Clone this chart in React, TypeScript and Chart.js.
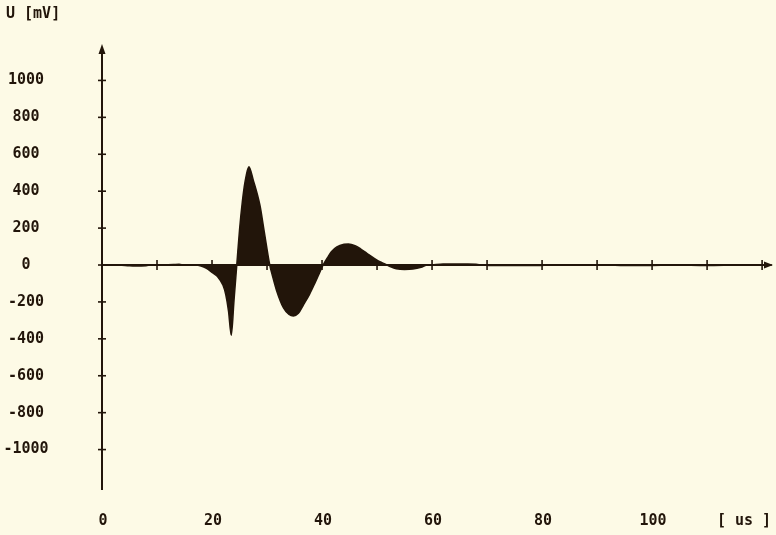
import React, { useEffect, useRef } from "react";
import { Chart, registerables } from "chart.js";

Chart.register(...registerables);

// Recorded pulse: time in microseconds, voltage in millivolts
const TIME_US = [
  0, 3, 5, 6, 8, 9, 10, 13, 14, 15, 17, 18, 19, 20, 21, 22, 22.5, 23, 23.5, 24,
  24.5, 25, 25.5, 26, 26.7, 27.5, 28.7, 29.5, 30.5, 31, 31.7, 33, 34, 34.8, 35.7,
  36.6, 37.7, 38.7, 39.5, 40.2, 41, 41.7, 42.7, 44, 44.8, 46, 47, 48.1, 49.3,
  50.5, 51.5, 52.5, 53.5, 55, 56.5, 58, 59, 60, 62, 64, 66, 68, 69, 72, 75, 78,
  82, 86, 92, 95, 100, 104, 110, 116, 121.8,
];
const VOLTAGE_MV = [
  0, 0, -4, -5, -4, 0, 0, 3, 4, 0, 0, -5, -18, -40, -63, -110, -160, -250, -380,
  -190, 0, 190, 340, 450, 533, 460, 325, 180, 0, -60, -135, -233, -268, -276,
  -262, -217, -160, -98, -45, 0, 40, 72, 98, 112, 114, 105, 88, 65, 40, 18, 5,
  -10, -20, -24, -22, -12, 0, 2, 5, 6, 5, 4, 0, -3, -2, -3, 0, 2, 0, -3, -2, 0,
  -3, 0, 0,
];

// Axis ticks
const Y_TICKS = [-1000, -800, -600, -400, -200, 0, 200, 400, 600, 800, 1000];
const X_TICKS = [10, 20, 30, 40, 50, 60, 70, 80, 90, 100, 110, 120];
const X_TICK_LABELS = [0, 20, 40, 60, 80, 100];

const Y_TITLE = "U [mV]";
const X_TITLE = "[ us ]";

const PAPER = "#fdfae6";
const INK = "#22150a";
const FONT = "bold 15px 'DejaVu Sans Mono', 'Liberation Mono', monospace";

const axesPlugin = {
  id: "penAxes",
  beforeDraw(chart: any) {
    const { ctx, width, height } = chart;
    ctx.save();
    ctx.fillStyle = PAPER;
    ctx.fillRect(0, 0, width, height);
    ctx.restore();
  },
  afterDatasetsDraw(chart: any) {
    const { ctx, chartArea } = chart;
    const xs = chart.scales.x;
    const ys = chart.scales.y;
    const x0 = xs.getPixelForValue(0);
    const y0 = ys.getPixelForValue(0);
    const top = chartArea.top;
    const bottom = chartArea.bottom;
    const right = chartArea.right;

    ctx.save();
    ctx.strokeStyle = INK;
    ctx.fillStyle = INK;
    ctx.lineWidth = 2;

    // vertical axis with arrow
    ctx.beginPath();
    ctx.moveTo(x0, top + 4);
    ctx.lineTo(x0, bottom);
    ctx.stroke();
    ctx.beginPath();
    ctx.moveTo(x0, top - 1);
    ctx.lineTo(x0 - 3.5, top + 9);
    ctx.lineTo(x0 + 3.5, top + 9);
    ctx.closePath();
    ctx.fill();

    // horizontal axis with arrow
    ctx.beginPath();
    ctx.moveTo(x0, y0);
    ctx.lineTo(right - 4, y0);
    ctx.stroke();
    ctx.beginPath();
    ctx.moveTo(right + 1, y0);
    ctx.lineTo(right - 8, y0 - 3.5);
    ctx.lineTo(right - 8, y0 + 3.5);
    ctx.closePath();
    ctx.fill();

    // tick marks
    ctx.lineWidth = 1.6;
    Y_TICKS.forEach((v) => {
      const py = ys.getPixelForValue(v);
      ctx.beginPath();
      ctx.moveTo(x0 - 4, py);
      ctx.lineTo(x0 + 4, py);
      ctx.stroke();
    });
    X_TICKS.forEach((v) => {
      const px = xs.getPixelForValue(v);
      ctx.beginPath();
      ctx.moveTo(px, y0 - 5);
      ctx.lineTo(px, y0 + 5);
      ctx.stroke();
    });

    // labels
    ctx.font = FONT;
    ctx.textBaseline = "middle";
    ctx.textAlign = "center";
    Y_TICKS.forEach((v) => {
      ctx.fillText(String(v), 26, ys.getPixelForValue(v));
    });
    X_TICK_LABELS.forEach((v) => {
      ctx.fillText(String(v), xs.getPixelForValue(v) + 1, 521);
    });
    ctx.fillText(X_TITLE, 744, 521);
    ctx.textAlign = "left";
    ctx.fillText(Y_TITLE, 6, 14);
    ctx.restore();
  },
};

export default function App() {
  const canvasRef = useRef<HTMLCanvasElement | null>(null);

  useEffect(() => {
    const canvas = canvasRef.current;
    if (!canvas) return;
    const points = TIME_US.map((t, i) => ({ x: t, y: VOLTAGE_MV[i] }));
    const chart = new Chart(canvas, {
      type: "line",
      data: {
        datasets: [
          {
            data: points,
            borderColor: INK,
            backgroundColor: INK,
            borderWidth: 1.5,
            fill: "origin",
            pointRadius: 0,
            cubicInterpolationMode: "monotone",
          },
        ],
      },
      options: {
        responsive: false,
        animation: false,
        devicePixelRatio: 1,
        layout: { padding: { left: 102, right: 4, top: 45, bottom: 45 } },
        scales: {
          x: { type: "linear", min: 0, max: 121.8, display: false },
          y: { type: "linear", min: -1219, max: 1192, display: false },
        },
        plugins: {
          legend: { display: false },
          tooltip: { enabled: false },
        },
      },
      plugins: [axesPlugin],
    });
    return () => chart.destroy();
  }, []);

  return (
    <div style={{ position: "fixed", left: 0, top: 0, width: 776, height: 535, background: PAPER }}>
      <canvas ref={canvasRef} width={776} height={535} />
    </div>
  );
}
